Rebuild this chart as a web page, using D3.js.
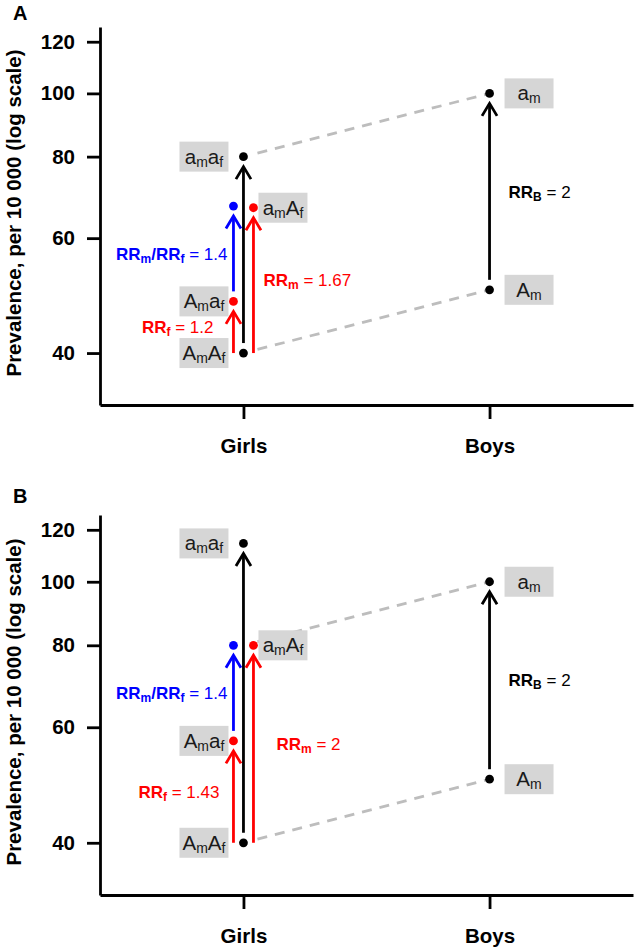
<!DOCTYPE html>
<html><head><meta charset="utf-8">
<script src="https://cdn.jsdelivr.net/npm/d3@7"></script>
<style>
body{margin:0;background:#fff;}
svg{display:block;font-family:"Liberation Sans",Arial,Helvetica,sans-serif;}
text{white-space:pre;}
</style></head>
<body>
<svg id="chart" width="638" height="949"></svg>
<script>
// ---------- data ----------
const categories = ["Girls", "Boys"];
const yTicks = [40, 60, 80, 100, 120];
const genotypes = ["AmAf", "Amaf", "amAf", "amaf", "Am", "am"];
const genotypeGroup = ["Girls", "Girls", "Girls", "Girls", "Boys", "Boys"];
const prevalenceA = [40, 48, 66.8, 80, 50, 100];
const prevalenceB = [40, 57.2, 80, 114.4, 50, 100];
const blueA = [67.2];
const blueB = [80];
const rrValuesA = ["1.2", "1.67", "1.4", "2"];   // RRf, RRm, RRm/RRf, RRB
const rrValuesB = ["1.43", "2", "1.4", "2"];
const dashPairsA = [["AmAf", "Am"], ["amaf", "am"]];
const dashPairsB = [["AmAf", "Am"], ["amAf", "am"]];

// ---------- layout ----------
const svg = d3.select("#chart");
svg.append("rect").attr("width", 638).attr("height", 949).attr("fill", "#fff");
const RED = "#f00", BLUE = "#00f", BLACK = "#000";

const panels = [
  {id: "A", top: 27, bottom: 405, letterY: 20, vals: prevalenceA, blue: blueA, rr: rrValuesA, dash: dashPairsA,
   rrGap: {f: 20, m: 10, mf: 6, b: 19}},
  {id: "B", top: 515, bottom: 895, letterY: 503, vals: prevalenceB, blue: blueB, rr: rrValuesB, dash: dashPairsB,
   rrGap: {f: 14, m: 23, mf: 6, b: 19}}
];

const x = d3.scalePoint().domain(categories).range([100, 633]).padding(0.583);
const labelSide = {AmAf: "left", Amaf: "left", amaf: "left", amAf: "right", Am: "right", am: "right"};
const labelParts = {
  AmAf: [["A", "m"], ["A", "f"]], Amaf: [["A", "m"], ["a", "f"]],
  amAf: [["a", "m"], ["A", "f"]], amaf: [["a", "m"], ["a", "f"]],
  Am: [["A", "m"]], am: [["a", "m"]]
};
const OFF = 10, GAP = 10;

panels.forEach(p => {
  const y = d3.scaleLog().domain([33.3, 126.4]).range([p.bottom, p.top]);
  const g = svg.append("g");
  const val = k => p.vals[genotypes.indexOf(k)];
  const grp = k => genotypeGroup[genotypes.indexOf(k)];

  // panel letter
  g.append("text").attr("x", 13).attr("y", p.letterY).attr("font-size", 20).attr("font-weight", "bold").text(p.id);

  // y title
  const mid = (p.top + p.bottom) / 2 - 3;
  g.append("text").attr("transform", `translate(21,${mid}) rotate(-90)`)
    .attr("text-anchor", "middle").attr("font-size", 20.5).attr("font-weight", "bold")
    .text("Prevalence, per 10 000 (log scale)");

  // axes
  const ya = g.append("g").attr("transform", "translate(100,0)")
    .call(d3.axisLeft(y).tickValues(yTicks).tickFormat(d3.format("d")).tickSize(13).tickSizeOuter(0).tickPadding(12));
  const xa = g.append("g").attr("transform", `translate(0,${p.bottom})`)
    .call(d3.axisBottom(x).tickSize(14).tickSizeOuter(0).tickPadding(19));
  [ya, xa].forEach(a => {
    a.selectAll("path,line").attr("stroke", "#000").attr("stroke-width", 2.8);
    a.selectAll("text").attr("font-size", 20.5).attr("font-weight", "bold").attr("fill", "#000")
      .attr("font-family", '"Liberation Sans",Arial,Helvetica,sans-serif');
  });

  // dashed connecting lines
  p.dash.forEach(([a, b]) => {
    const x1 = x(grp(a)), y1 = y(val(a)), x2 = x(grp(b)), y2 = y(val(b));
    const t1 = 14 / (x2 - x1), t2 = 1 - 4 / (x2 - x1);
    g.append("line")
      .attr("x1", x1 + (x2 - x1) * t1).attr("y1", y1 + (y2 - y1) * t1)
      .attr("x2", x1 + (x2 - x1) * t2).attr("y2", y1 + (y2 - y1) * t2)
      .attr("stroke", "#bdbdbd").attr("stroke-width", 2.8).attr("stroke-dasharray", "10,8");
  });

  // label boxes
  genotypes.forEach(k => {
    const cx = x(grp(k)), cy = y(val(k));
    const bx = labelSide[k] === "left" ? cx - 15 - 49 : cx + 15;
    g.append("rect").attr("x", bx).attr("y", cy - 15).attr("width", 49).attr("height", 30).attr("fill", "#d6d6d6");
    const t = g.append("text").attr("x", bx + 24.5).attr("y", cy + 7).attr("text-anchor", "middle")
      .attr("font-size", 20).attr("fill", "#1a1a1a");
    labelParts[k].forEach(([main, sub], i) => {
      t.append("tspan").attr("dy", i === 0 ? 0 : -3).attr("font-size", 20.5).text(main);
      t.append("tspan").attr("dy", 3).attr("font-size", 14).text(sub);
    });
  });

  // arrows
  const gx = x("Girls"), bxp = x("Boys");
  const blueVal = p.blue[0];
  const arrows = [
    {key: "girls", xx: gx, from: val("AmAf"), to: val("amaf"), gap: true, color: BLACK},
    {key: "f", xx: gx - OFF, from: val("AmAf"), to: val("Amaf"), gap: false, color: RED},
    {key: "mf", xx: gx - OFF, from: val("Amaf"), to: blueVal, gap: true, color: BLUE},
    {key: "m", xx: gx + OFF, from: val("AmAf"), to: val("amAf"), gap: false, color: RED},
    {key: "b", xx: bxp, from: val("Am"), to: val("am"), gap: true, color: BLACK}
  ];
  arrows.forEach(a => {
    const y1 = y(a.from) - (a.gap ? GAP : 0), y2 = y(a.to) + GAP;
    g.append("line").attr("x1", a.xx).attr("x2", a.xx).attr("y1", y1).attr("y2", y2 + 1)
      .attr("stroke", a.color).attr("stroke-width", 2.8);
    g.append("path").attr("d", `M${a.xx - 7.5},${y2 + 12.5}L${a.xx},${y2}L${a.xx + 7.5},${y2 + 12.5}`)
      .attr("fill", "none").attr("stroke", a.color).attr("stroke-width", 2.8);
  });

  // points
  const pts = [
    {xx: gx, v: val("AmAf"), c: BLACK}, {xx: gx, v: val("amaf"), c: BLACK},
    {xx: bxp, v: val("Am"), c: BLACK}, {xx: bxp, v: val("am"), c: BLACK},
    {xx: gx - OFF, v: val("Amaf"), c: RED}, {xx: gx + OFF, v: val("amAf"), c: RED},
    {xx: gx - OFF, v: blueVal, c: BLUE}
  ];
  g.selectAll(null).data(pts).join("circle")
    .attr("cx", d => d.xx).attr("cy", d => y(d.v)).attr("r", 4.4).attr("fill", d => d.c);

  // RR labels
  const rrSpec = [
    {key: "f", side: "left", color: RED, parts: [["RR", "f"]], value: p.rr[0]},
    {key: "m", side: "right", color: RED, parts: [["RR", "m"]], value: p.rr[1]},
    {key: "mf", side: "left", color: BLUE, parts: [["RR", "m"], ["/RR", "f"]], value: p.rr[2]},
    {key: "b", side: "right", color: BLACK, parts: [["RR", "B"]], value: p.rr[3]}
  ];
  rrSpec.forEach(s => {
    const a = arrows.find(d => d.key === s.key);
    const cy = y(Math.sqrt(a.from * a.to));
    const tx = s.side === "left" ? a.xx - p.rrGap[s.key] : a.xx + p.rrGap[s.key];
    const t = g.append("text").attr("x", tx).attr("y", cy + 6)
      .attr("text-anchor", s.side === "left" ? "end" : "start")
      .attr("fill", s.color).attr("font-size", 17);
    s.parts.forEach(([main, sub], i) => {
      t.append("tspan").attr("dy", i === 0 ? 0 : -3).attr("font-weight", "bold").attr("font-size", 17).text(main);
      t.append("tspan").attr("dy", 3).attr("font-weight", "bold").attr("font-size", 12).text(sub);
    });
    t.append("tspan").attr("dy", -3).attr("font-size", 17).text(" = " + s.value);
  });
});
</script>
</body></html>
